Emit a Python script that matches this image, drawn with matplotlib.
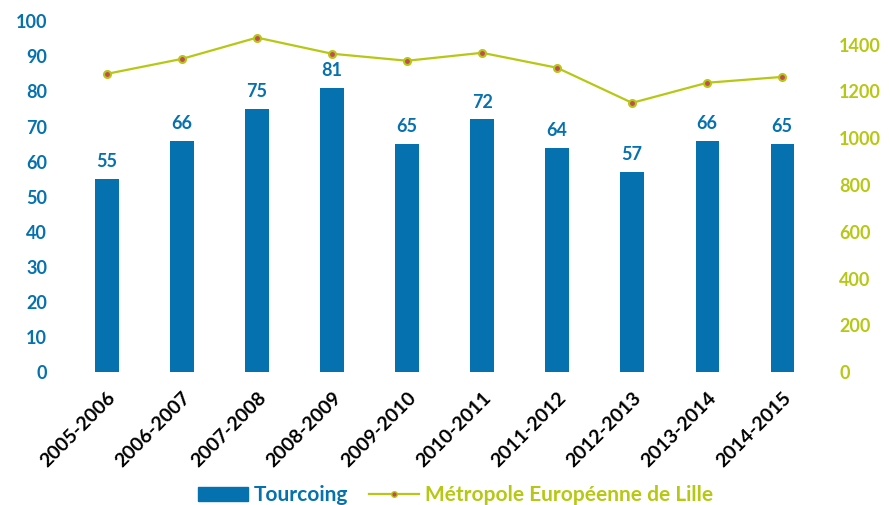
import matplotlib
matplotlib.use("Agg")
import matplotlib.pyplot as plt
from matplotlib.lines import Line2D
from matplotlib.patches import Patch

categories = ["2005-2006", "2006-2007", "2007-2008", "2008-2009", "2009-2010",
              "2010-2011", "2011-2012", "2012-2013", "2013-2014", "2014-2015"]
tourcoing = [55, 66, 75, 81, 65, 72, 64, 57, 66, 65]
mel = [1275, 1339, 1430, 1361, 1331, 1365, 1301, 1151, 1237, 1262]

BLUE = "#0571ae"
GREEN = "#b6c813"
MARK = "#c24a5a"
FONT = "Lato"

fig = plt.figure(figsize=(8.90, 5.05), dpi=100)
ax = fig.add_axes([0.078, 0.263, 0.843, 0.695])
ax2 = ax.twinx()

x = list(range(len(categories)))
ax.bar(x, tourcoing, width=0.31, color=BLUE, zorder=2)
for xi, v in zip(x, tourcoing):
    ax.text(xi, v + 2.5, str(v), ha="center", va="bottom", color=BLUE,
            fontsize=13, fontfamily=FONT, fontweight="bold")

ax2.plot(x, mel, color=GREEN, lw=1.6, marker="o", markersize=5,
         markerfacecolor=MARK, markeredgecolor=GREEN, markeredgewidth=1.5, zorder=3)

ax.set_xlim(-0.5, len(categories) - 0.5)
ax.set_ylim(0, 100)
ax2.set_ylim(0, 1500)
ax.set_yticks(range(0, 101, 10))
ax2.set_yticks(range(0, 1401, 200))

ax.set_xticks(x)
ax.set_xticklabels(categories, rotation=45, ha="right", rotation_mode="anchor",
                   fontsize=14, fontweight="bold", fontfamily=FONT, color="black")
for lab in ax.get_yticklabels():
    lab.set_color(BLUE); lab.set_fontsize(13); lab.set_fontweight("bold"); lab.set_fontfamily(FONT)
for lab in ax2.get_yticklabels():
    lab.set_color(GREEN); lab.set_fontsize(13); lab.set_fontweight("bold"); lab.set_fontfamily(FONT)

for a in (ax, ax2):
    for s in a.spines.values():
        s.set_visible(False)
    a.tick_params(length=0)
ax.tick_params(axis="y", pad=16)
ax.tick_params(axis="x", pad=12)
ax2.tick_params(axis="y", pad=14)

handles = [Patch(color=BLUE),
           Line2D([0], [0], color=GREEN, lw=1.6, marker="o", markersize=4,
                  markerfacecolor=MARK, markeredgecolor=GREEN)]
leg = fig.legend(handles, ["Tourcoing", "Métropole Européenne de Lille"],
                 loc="lower center", bbox_to_anchor=(0.512, -0.038), ncol=2, frameon=False,
                 prop={"family": FONT, "weight": "bold", "size": 15},
                 handlelength=2.4, columnspacing=1.0, handletextpad=0.3)
leg.get_texts()[0].set_color(BLUE)
leg.get_texts()[1].set_color(GREEN)

fig.savefig("out.png", dpi=100)
